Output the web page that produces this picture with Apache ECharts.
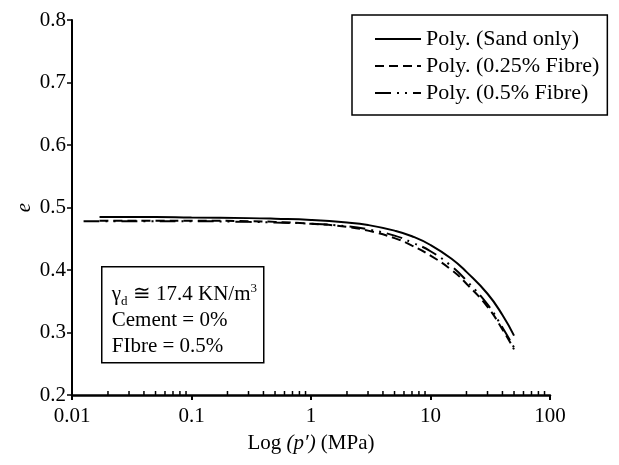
<!DOCTYPE html>
<html>
<head>
<meta charset="utf-8">
<script src="https://cdn.jsdelivr.net/npm/echarts@6/dist/echarts.min.js"></script>
<style>html,body{margin:0;padding:0;background:#fff}#c{width:619px;height:465px}</style>
</head>
<body>
<div id="c"></div>
<script>
// Data
const seriesNames = ['Poly. (Sand only)', 'Poly. (0.25% Fibre)', 'Poly. (0.5% Fibre)'];
const sandOnlyP = [0.017, 0.05, 0.1, 0.3, 0.5, 1, 2, 3, 5, 7, 10, 15, 20, 30, 40, 50];
const sandOnlyE = [0.485, 0.485, 0.484, 0.483, 0.482, 0.480, 0.476, 0.472, 0.463, 0.454, 0.440, 0.418, 0.397, 0.362, 0.328, 0.295];
const fibre025P = [0.017, 0.05, 0.1, 0.3, 0.5, 1, 2, 3, 5, 7, 10, 15, 20, 30, 40, 50];
const fibre025E = [0.479, 0.479, 0.479, 0.478, 0.477, 0.474, 0.469, 0.463, 0.451, 0.439, 0.423, 0.400, 0.378, 0.341, 0.305, 0.273];
const fibre05P = [0.0125, 0.05, 0.1, 0.3, 0.5, 1, 2, 3, 5, 7, 10, 15, 20, 30, 40, 50];
const fibre05E = [0.478, 0.478, 0.478, 0.477, 0.476, 0.474, 0.470, 0.465, 0.455, 0.444, 0.430, 0.406, 0.383, 0.345, 0.308, 0.276];
const xTickLabels = ['0.01', '0.1', '1', '10', '100'];
const yTickLabels = ['0.2', '0.3', '0.4', '0.5', '0.6', '0.7', '0.8'];
const minorTicks = [0.02,0.03,0.04,0.05,0.06,0.07,0.08,0.09,
                    0.2,0.3,0.4,0.5,0.6,0.7,0.8,0.9,
                    2,3,4,5,6,7,8,9,
                    20,30,40,50,60,70,80,90];

const pair = (xs, ys) => xs.map((x, i) => [x, ys[i]]);
const FONT = '"Liberation Serif", "Times New Roman", serif';
const FS = 21;

const chart = echarts.init(document.getElementById('c'), null, {renderer: 'canvas'});
const option = {
  backgroundColor: '#fff',
  animation: false,
  grid: {left: 72, right: 69, top: 20, bottom: 70},
  xAxis: {
    type: 'log', logBase: 10, min: 0.01, max: 100,
    name: '{n|Log }{i|(p′)}{n| (MPa)}', nameLocation: 'middle', nameGap: 38,
    nameTextStyle: {fontFamily: FONT, fontSize: FS, color: '#000',
      rich: {n: {fontFamily: FONT, fontSize: FS, color: '#000'},
             i: {fontFamily: FONT, fontSize: FS, fontStyle: 'italic', color: '#000'}}},
    axisLine: {lineStyle: {color: '#000', width: 2.5}},
    axisTick: {show: true, length: 5, lineStyle: {color: '#000', width: 2}},
    axisLabel: {fontFamily: FONT, fontSize: FS, color: '#000', margin: 11,
      formatter: v => { const i = Math.round(Math.log10(v)) + 2; return xTickLabels[i] !== undefined ? xTickLabels[i] : ''; }},
    splitLine: {show: false}
  },
  yAxis: {
    type: 'value', min: 0.2, max: 0.8, interval: 0.1,
    name: 'e', nameLocation: 'middle', nameGap: 37, nameRotate: 90, nameMoveOverlap: false,
    nameTextStyle: {fontFamily: FONT, fontSize: FS, fontStyle: 'italic', color: '#000'},
    axisLine: {show: true, lineStyle: {color: '#000', width: 2}},
    axisTick: {show: true, length: 5, lineStyle: {color: '#000', width: 1.5}},
    axisLabel: {fontFamily: FONT, fontSize: FS, color: '#000', margin: 6,
      formatter: v => yTickLabels[Math.round((v - 0.2) * 10)] || ''},
    splitLine: {show: false}
  },
  legend: {
    orient: 'vertical', left: 352, top: 15,
    padding: [13, 8, 11, 22],
    itemGap: 5, itemWidth: 46, itemHeight: 14,
    borderColor: '#000', borderWidth: 1.5, backgroundColor: '#fff',
    itemStyle: {opacity: 0},
    textStyle: {fontFamily: FONT, fontSize: 22, color: '#000', lineHeight: 22},
    data: seriesNames
  },
  graphic: [{
    type: 'group', left: 101, top: 266,
    children: [
      {type: 'rect', shape: {x: 0, y: 0, width: 162, height: 96},
       style: {fill: '#fff', stroke: '#000', lineWidth: 1.5}},
      {type: 'text', left: 10, top: 15,
       style: {text: '{g|γ}{s|d}{g| ≅ 17.4 KN/m}{p|3}\n{g|Cement = 0%}\n{g|FIbre = 0.5%}',
         fill: '#000', font: FS + 'px ' + FONT, lineHeight: 26,
         rich: {
           g: {fontFamily: FONT, fontSize: FS, lineHeight: 26},
           s: {fontFamily: FONT, fontSize: 13, verticalAlign: 'bottom', padding: [8, 0, 0, 0], lineHeight: 26},
           p: {fontFamily: FONT, fontSize: 13, verticalAlign: 'top', padding: [0, 0, 8, 0], lineHeight: 26}
         }}}
    ]
  }],
  series: [
    {name: seriesNames[0], type: 'line', data: pair(sandOnlyP, sandOnlyE), smooth: true,
     showSymbol: false, symbol: 'none', lineStyle: {color: '#000', width: 2, type: 'solid'}, itemStyle: {color: '#000'}},
    {name: seriesNames[1], type: 'line', data: pair(fibre025P, fibre025E), smooth: true,
     showSymbol: false, symbol: 'none', lineStyle: {color: '#000', width: 2, type: [9, 5]}, itemStyle: {color: '#000'}},
    {name: seriesNames[2], type: 'line', data: pair(fibre05P, fibre05E), smooth: true,
     showSymbol: false, symbol: 'none', lineStyle: {color: '#000', width: 2, type: [16, 6, 2, 6, 2, 6]}, itemStyle: {color: '#000'}},
    {type: 'custom', name: 'minorTicks', silent: true, clip: false,
     data: minorTicks.map(v => [v, 0.2]),
     renderItem: (params, api) => {
       const pt = api.coord([api.value(0), api.value(1)]);
       return {type: 'line', shape: {x1: pt[0], y1: pt[1], x2: pt[0], y2: pt[1] - 4},
               style: {stroke: '#000', lineWidth: 1.5}};
     }}
  ]
};
chart.setOption(option);
</script>
</body>
</html>
